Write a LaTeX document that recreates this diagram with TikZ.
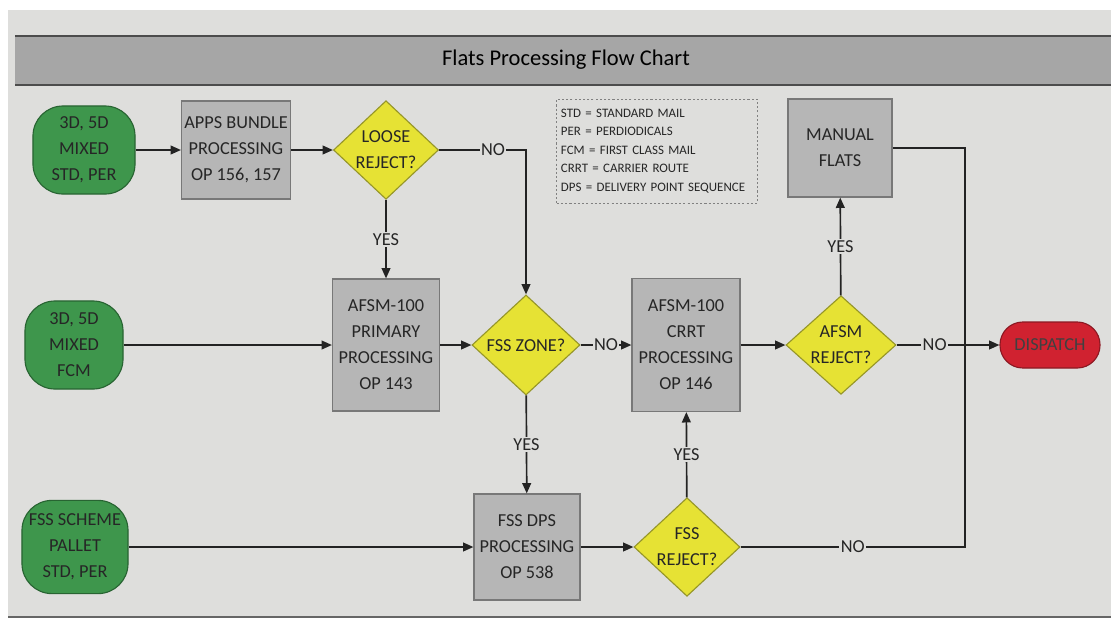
\documentclass[tikz,border=0pt]{standalone}
\usepackage{fontspec}
\setmainfont{Carlito}
\usetikzlibrary{arrows.meta, positioning, shapes.geometric, calc}

\definecolor{paper}{RGB}{222,222,220}
\definecolor{barfill}{RGB}{166,166,166}
\definecolor{boxfill}{RGB}{182,182,182}
\definecolor{boxline}{RGB}{120,120,120}
\definecolor{startfill}{RGB}{62,150,76}
\definecolor{startline}{RGB}{40,100,50}
\definecolor{askfill}{RGB}{230,226,52}
\definecolor{askline}{RGB}{150,150,40}
\definecolor{endfill}{RGB}{208,34,48}
\definecolor{endline}{RGB}{140,25,35}
\definecolor{inkline}{RGB}{35,35,35}

\begin{document}
\begin{tikzpicture}[x=0.025cm, y=-0.025cm,
    font=\fontsize{13}{18.5}\selectfont,
    opbox/.style={draw=boxline, line width=0.8pt, fill=boxfill, align=center, inner sep=2pt, text=black!85},
    askbox/.style={diamond, draw=askline, line width=0.8pt, fill=askfill, align=center, inner sep=0pt, text=black!85},
    startbox/.style={draw=startline, line width=0.8pt, fill=startfill, rounded corners=0.75cm, align=center, inner sep=1pt, text=black!85},
    endbox/.style={draw=endline, line width=0.8pt, fill=endfill, rounded corners=0.57cm, align=center, text=black!75},
    legendbox/.style={draw=black!50, dash pattern=on 1.5pt off 1.5pt, align=left, text width=4.8cm, minimum height=2.6cm, inner sep=3pt, font=\fontsize{9.2}{13.2}\selectfont, text=black!85},
    arr/.style={-{Triangle[length=2.6mm, width=2.2mm]}, line width=1.2pt, draw=inkline},
    wire/.style={line width=1.2pt, draw=inkline},
    lbl/.style={fill=paper, inner sep=1pt, text=black!85}
]
\useasboundingbox (0,0) rectangle (1111,626);

% paper and title bar
\fill[white] (0,0) rectangle (1111,626);
\fill[paper] (8,10) rectangle (1111,617);
\fill[barfill] (15,36) rectangle (1111,85);
\draw[black!70, line width=1pt] (15,36) -- (1111,36) (15,85) -- (1111,85);
\draw[black!60, line width=1pt] (8,617) -- (1111,617);
\node (title) at (566,60) {\fontsize{16}{19}\selectfont Flats Processing Flow Chart};

% top row
\node[startbox, minimum width=2.55cm, minimum height=2.2cm] (srcstd) at (84,150) {3D, 5D\\MIXED\\STD, PER};
\node[opbox, minimum width=2.625cm, minimum height=2.45cm] (apps) at (236,150) {APPS BUNDLE\\PROCESSING\\OP 156, 157};
\node[askbox, minimum width=2.625cm, minimum height=2.375cm] (loose) at (386,150) {LOOSE\\REJECT?};
\node[legendbox] (legend) at (657,151) {STD = STANDARD MAIL\\PER = PERDIODICALS\\FCM = FIRST CLASS MAIL\\CRRT = CARRIER ROUTE\\DPS = DELIVERY POINT SEQUENCE};
\node[opbox, minimum width=2.6cm, minimum height=2.45cm] (manual) at (840,148) {MANUAL\\FLATS};

% middle row
\node[startbox, minimum width=2.45cm, minimum height=2.2cm] (srcfcm) at (74,345) {3D, 5D\\MIXED\\FCM};
\node[opbox, minimum width=2.675cm, minimum height=3.3cm] (primary) at (386,345) {AFSM-100\\PRIMARY\\PROCESSING\\OP 143};
\node[askbox, minimum width=2.7cm, minimum height=2.5cm] (zone) at (526,345) {FSS ZONE?};
\node[opbox, minimum width=2.7cm, minimum height=3.325cm] (crrt) at (686,345) {AFSM-100\\CRRT\\PROCESSING\\OP 146};
\node[askbox, minimum width=2.75cm, minimum height=2.425cm] (afsmrej) at (841,345) {AFSM\\REJECT?};
\node[endbox, minimum width=2.5cm, minimum height=1.15cm] (dispatch) at (1050,345) {DISPATCH};

% bottom row
\node[startbox, minimum width=2.65cm, minimum height=2.33cm] (srcfss) at (75,547) {FSS SCHEME\\PALLET\\STD, PER};
\node[opbox, minimum width=2.65cm, minimum height=2.65cm] (fssdps) at (527,547) {FSS DPS\\PROCESSING\\OP 538};
\node[askbox, minimum width=2.65cm, minimum height=2.45cm] (fssrej) at (687,547) {FSS\\REJECT?};

\coordinate (track) at (965,345);

% connectors
\draw[arr] (srcstd) -- (apps);
\draw[arr] (apps) -- (loose);
\draw[arr] (loose.east) -- node[lbl, pos=0.62] {NO} (loose.east -| zone.north) -- (zone.north);
\draw[arr] (loose) -- node[lbl] {YES} (primary);
\draw[arr] (srcfcm) -- (primary);
\draw[arr] (primary) -- (zone);
\draw[arr] (zone) -- node[lbl] {NO} (crrt);
\draw[arr] (zone) -- node[lbl] {YES} (fssdps);
\draw[arr] (crrt) -- (afsmrej);
\draw[arr] (afsmrej) -- node[lbl] {YES} (manual);
\draw[wire] (fssrej.east) -- node[lbl] {NO} (fssrej.east -| track) -- (manual.east -| track) -- (manual.east);
\draw[arr] (afsmrej) -- node[lbl, pos=0.37] {NO} (dispatch);
\draw[arr] (srcfss) -- (fssdps);
\draw[arr] (fssdps) -- (fssrej);
\draw[arr] (fssrej) -- node[lbl] {YES} (crrt);
\end{tikzpicture}
\end{document}
